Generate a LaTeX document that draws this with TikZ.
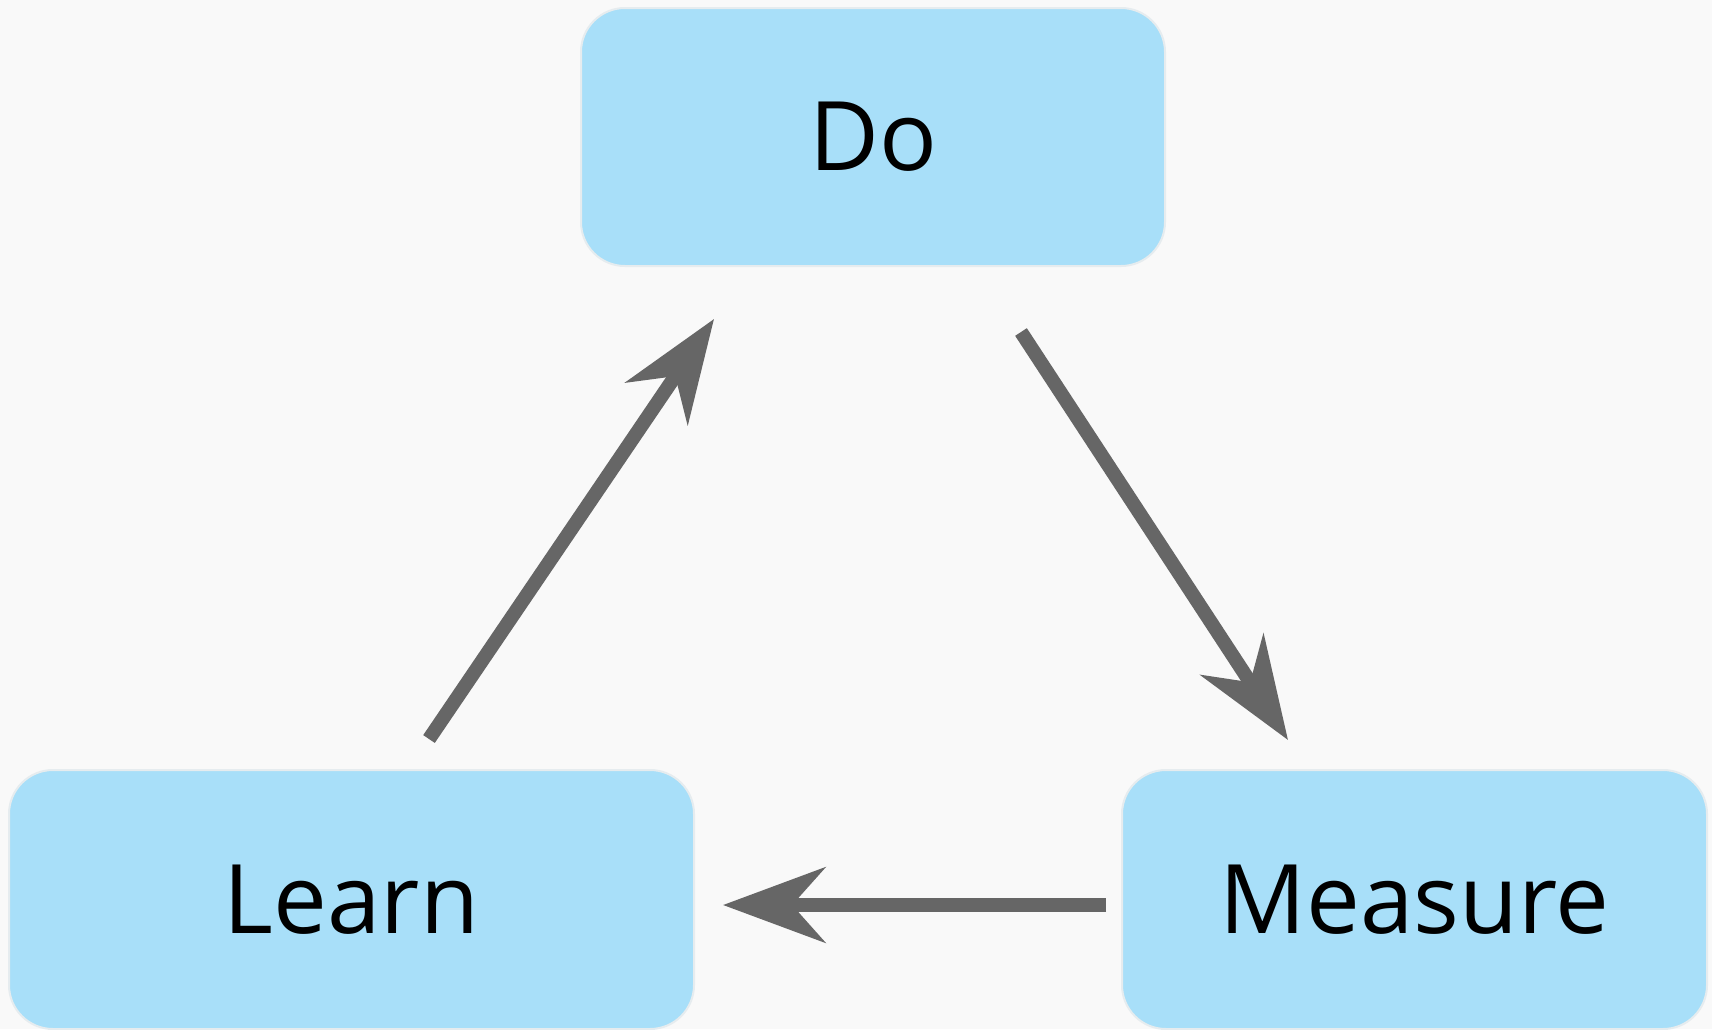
\documentclass[tikz,border=0pt]{standalone}
\usepackage{fontspec}
\setmainfont{Open Sans}
\usetikzlibrary{arrows.meta}
\definecolor{bg}{HTML}{F9F9F9}
\definecolor{boxfill}{HTML}{A8DFF9}
\definecolor{boxline}{HTML}{E6ECEF}
\definecolor{arrowgray}{HTML}{666666}
\tikzset{
  stagebox/.style={draw=boxline, line width=2pt, fill=boxfill, rounded corners=44pt,
    inner sep=0pt, font=\fontsize{96}{112}\selectfont, text=black},
  flowarrow/.style={draw=arrowgray, line width=14pt, line cap=butt,
    -{Stealth[length=102pt, width=75pt, inset=33pt]}}
}
\begin{document}
\begin{tikzpicture}[x=1pt, y=-1pt]
\fill[bg] (0,0) rectangle (1712,1029);
\useasboundingbox (0,0) rectangle (1712,1029);
\node[stagebox, minimum width=584pt, minimum height=258pt] (do) at (873,137) {Do};
\node[stagebox, minimum width=685pt, minimum height=259pt] (learn) at (351.5,899.5) {Learn};
\node[stagebox, minimum width=585pt, minimum height=259pt] (measure) at (1414.5,899.5) {Measure};
\coordinate (a1s) at (1021,332);
\coordinate (a1e) at (1288,740);
\coordinate (a2s) at (1106,905);
\coordinate (a2e) at (723,905);
\coordinate (a3s) at (429,739);
\coordinate (a3e) at (714,319);
\draw[flowarrow] (a1s) -- (a1e);
\draw[flowarrow] (a2s) -- (a2e);
\draw[flowarrow] (a3s) -- (a3e);
\end{tikzpicture}
\end{document}
